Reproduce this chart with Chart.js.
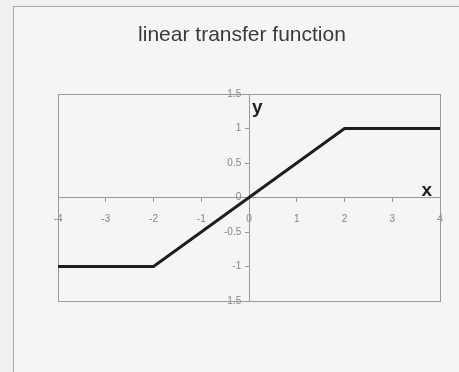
<!DOCTYPE html>
<html>
<head>
<meta charset="utf-8">
<script src="https://cdn.jsdelivr.net/npm/chart.js@4/dist/chart.umd.min.js"></script>
<style>
    html, body { margin: 0; padding: 0; background: #f1f1f1; }
    #wrap { position: relative; width: 459px; height: 372px; overflow: hidden; }
    #frame { position: absolute; left: 13px; top: 6px; width: 470px; height: 400px;
             border: 1px solid #a8a8a8; background: #f5f5f5; }
    #chart { position: absolute; left: 0; top: 0; }
</style>
</head>
<body>
<div id="wrap">
    <div id="frame"></div>
    <canvas id="chart" width="459" height="372"></canvas>
</div>
<script>
const titleText = 'linear transfer function';
const xValues = [-4, -2, 2, 4];
const yValues = [-1, -1, 1, 1];
const xTicks = [-4, -3, -2, -1, 0, 1, 2, 3, 4];
const yTicks = [-1.5, -1, -0.5, 0, 0.5, 1, 1.5];

const labelsPlugin = {
    id: 'labels',
    beforeDatasetsDraw(chart) {
        const { ctx, chartArea: a } = chart;
        ctx.save();
        ctx.strokeStyle = '#9a9a9a';
        ctx.lineWidth = 1;
        ctx.strokeRect(a.left + 0.5, a.top + 0.5, a.right - a.left, a.bottom - a.top);
        ctx.restore();
    },
    afterDraw(chart) {
        const { ctx, chartArea: a, scales } = chart;
        ctx.save();
        ctx.fillStyle = '#3a3a3a';
        ctx.font = "21px 'Liberation Sans', Arial, sans-serif";
        ctx.textAlign = 'center';
        ctx.textBaseline = 'alphabetic';
        ctx.fillText(titleText, 242, 41);
        // axis names
        ctx.fillStyle = '#222';
        ctx.font = "bold 19px 'Liberation Sans', Arial, sans-serif";
        ctx.textAlign = 'left';
        ctx.fillText('y', scales.x.getPixelForValue(0) + 3, a.top + 19);
        ctx.textAlign = 'right';
        ctx.fillText('x', a.right - 8, scales.y.getPixelForValue(0) - 2);
        ctx.restore();
    }
};

const tickFont = { family: "'Liberation Sans', Arial, sans-serif", size: 10 };

new Chart(document.getElementById('chart'), {
    type: 'scatter',
    data: {
        datasets: [{
            data: xValues.map((x, i) => ({ x, y: yValues[i] })),
            showLine: true,
            borderColor: '#1e1e1e',
            borderWidth: 3,
            pointRadius: 0,
            tension: 0,
        }],
    },
    options: {
        responsive: false,
        animation: false,
        layout: { padding: { left: 58, right: 19, top: 94, bottom: 71 } },
        plugins: { legend: { display: false }, tooltip: { enabled: false }, title: { display: false } },
        scales: {
            x: {
                type: 'linear',
                position: { y: 0 },
                min: -4, max: 4,
                afterBuildTicks: s => { s.ticks = xTicks.map(v => ({ value: v })); },
                grid: { drawOnChartArea: false, drawTicks: true, tickLength: 4, color: '#999' },
                border: { color: '#999' },
                ticks: { color: '#858585', font: tickFont, padding: 12, maxRotation: 0,
                         callback: v => String(v) },
            },
            y: {
                type: 'linear',
                position: { x: 0 },
                min: -1.5, max: 1.5,
                afterBuildTicks: s => { s.ticks = yTicks.map(v => ({ value: v })); },
                grid: { drawOnChartArea: false, drawTicks: true, tickLength: 4, color: '#999' },
                border: { color: '#999' },
                // centred axes put labels right on the line, so pad with a space
                ticks: { color: '#858585', font: tickFont, padding: 2,
                         callback: v => String(v) + '\u2002 ' },
            },
        },
    },
    plugins: [labelsPlugin],
});
</script>
</body>
</html>
